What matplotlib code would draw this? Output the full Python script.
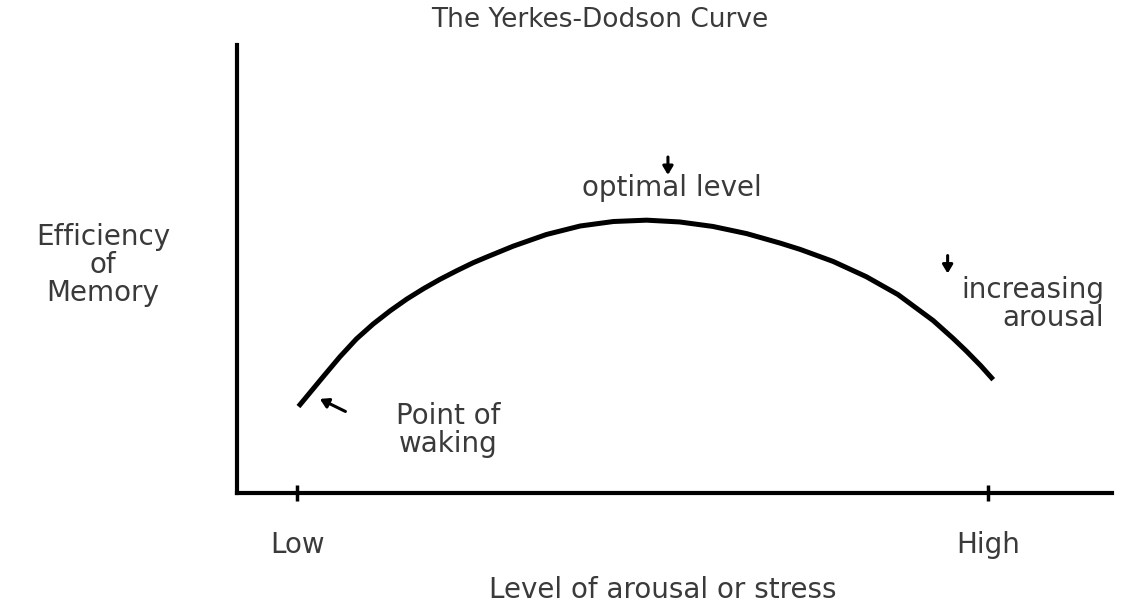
import matplotlib
matplotlib.use("Agg")
import matplotlib.pyplot as plt

# arousal (Low = 0, High = 10) vs. efficiency of memory (0 - 10)
arousal = [0.02, 0.38, 0.62, 0.86, 1.10, 1.35, 1.59, 1.83, 2.07, 2.31,
           2.55, 2.75, 3.13, 3.61, 4.10, 4.58, 5.06, 5.54, 6.02, 6.51,
           6.99, 7.28, 7.76, 8.24, 8.70, 9.21, 9.50, 9.69, 9.90, 10.08]
efficiency = [1.93, 2.60, 3.04, 3.44, 3.77, 4.07, 4.33, 4.56, 4.77, 4.96,
              5.14, 5.27, 5.51, 5.77, 5.96, 6.06, 6.09, 6.05, 5.95, 5.79,
              5.58, 5.44, 5.17, 4.83, 4.43, 3.85, 3.45, 3.17, 2.84, 2.53]

tick_pos = [0, 10]
tick_labels = ["Low", "High"]

title = "The Yerkes-Dodson Curve"
x_label = "Level of arousal or stress"
y_label = "Efficiency\nof\nMemory"

txt_color = "#3a3a3a"
fs = 20

fig = plt.figure(figsize=(11.3, 6.03), dpi=100)
W, H = 1130, 603
ax = fig.add_axes([237 / W, (H - 493) / H, (1112 - 237) / W, (493 - 45) / H])

ax.plot(arousal, efficiency, color="black", lw=3.6,
        solid_capstyle="butt", solid_joinstyle="round")

ax.set_xlim(-0.87, 11.8)
ax.set_ylim(0, 10)

for s in ["top", "right"]:
    ax.spines[s].set_visible(False)
for s in ["left", "bottom"]:
    ax.spines[s].set_linewidth(3)
    ax.spines[s].set_color("black")

ax.set_yticks([])
ax.set_xticks(tick_pos, tick_labels)
ax.tick_params(axis="x", direction="inout", length=11, width=2.5,
               pad=22, labelsize=fs, labelcolor=txt_color)

ax.set_xlabel(x_label, fontsize=fs, color=txt_color, va="center")
ax.xaxis.set_label_coords((663 - 237) / 875, (493 - 590) / 448)
ax.set_ylabel(y_label, fontsize=fs, color=txt_color, rotation=0,
              ha="center", va="center", linespacing=1.0)
ax.yaxis.set_label_coords((103 - 237) / 875, (493 - 265) / 448)

fig.text(600 / W, 1 - 20 / H, title, fontsize=fs - 1, color=txt_color,
         ha="center", va="center")

arrow = dict(arrowstyle="-|>,head_length=0.5,head_width=0.3",
             color="black", lw=2.2, shrinkA=0, shrinkB=0)

# optimal level
ax.annotate("", xy=(5.37, 7.10), xytext=(5.37, 7.50), arrowprops=arrow)
ax.text(5.43, 6.81, "optimal level", fontsize=fs, color=txt_color,
        ha="center", va="center")

# increasing arousal
ax.annotate("", xy=(9.42, 4.90), xytext=(9.42, 5.30), arrowprops=arrow)
ax.text(11.69, 4.21, "increasing\narousal", fontsize=fs, color=txt_color,
        ha="right", va="center", multialignment="right", linespacing=1.0)

# point of waking
ax.annotate("", xy=(0.33, 2.10), xytext=(0.70, 1.82), arrowprops=arrow)
ax.text(2.19, 1.41, "Point of\nwaking", fontsize=fs, color=txt_color,
        ha="center", va="center", multialignment="center", linespacing=1.0)

fig.savefig("out.png", dpi=100, facecolor="white")
